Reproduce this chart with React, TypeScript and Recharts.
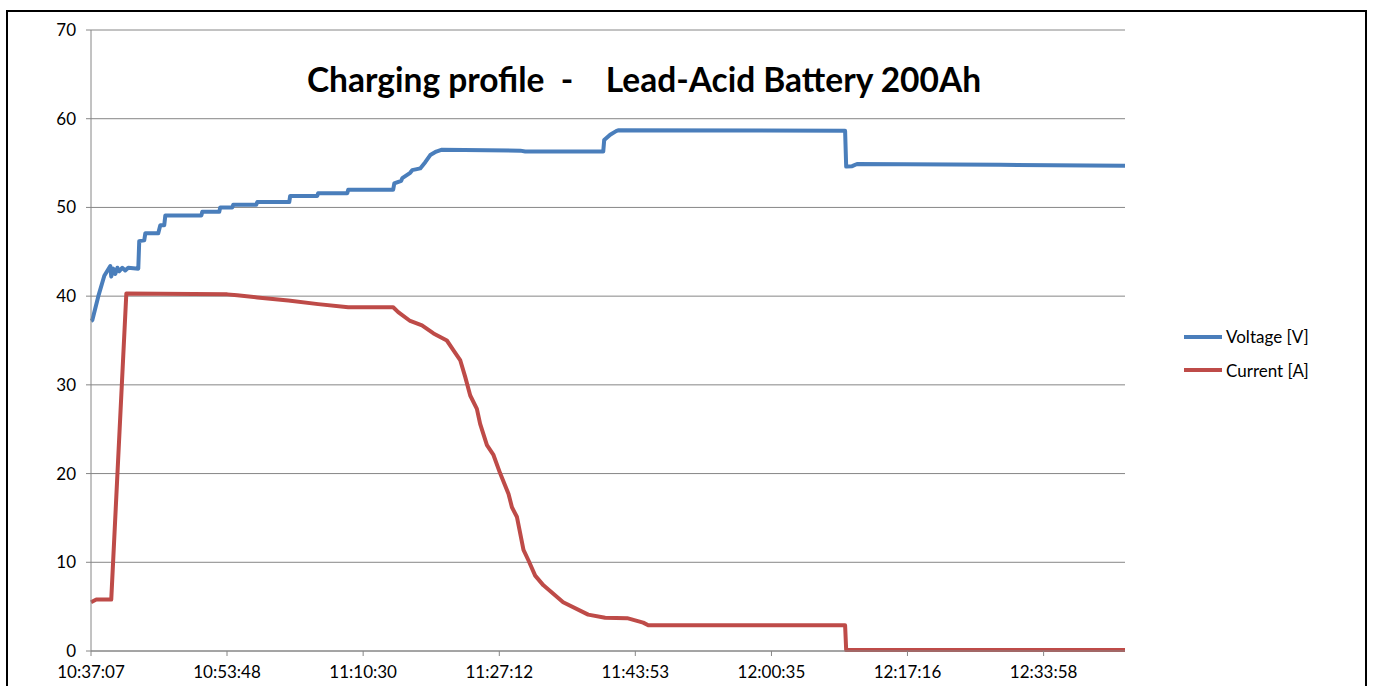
import React from 'react';
import { LineChart, Line, XAxis, YAxis, CartesianGrid, Legend } from 'recharts';

// elapsed seconds since 10:37:07
const voltageTime = [0, 10, 54, 98, 142, 149, 164, 179, 194, 208, 230, 252, 274, 348, 355, 392, 400, 495, 510, 539, 547, 812, 819, 944, 951, 1040, 1047, 1216, 1224, 1459, 1466, 1665, 1672, 1886, 1893, 2224, 2232, 2283, 2291, 2349, 2364, 2423, 2460, 2497, 2541, 2578, 3159, 3196, 3770, 3777, 3821, 3865, 3880, 5550, 5558, 5602, 5638, 6691, 7610];
const voltageValue = [37.2, 37.3, 40.0, 42.3, 43.4, 42.2, 43.1, 42.5, 43.2, 42.8, 43.2, 42.9, 43.2, 43.1, 46.2, 46.3, 47.1, 47.1, 48.0, 48.0, 49.1, 49.1, 49.5, 49.5, 50.0, 50.0, 50.3, 50.3, 50.6, 50.6, 51.3, 51.3, 51.6, 51.6, 52.0, 52.0, 52.7, 53.0, 53.3, 53.9, 54.2, 54.4, 55.1, 55.9, 56.3, 56.5, 56.4, 56.3, 56.3, 57.6, 58.2, 58.6, 58.7, 58.65, 54.6, 54.65, 54.9, 54.8, 54.7];

const currentTime = [0, 39, 149, 260, 1003, 1076, 1224, 1452, 1672, 1893, 2224, 2261, 2349, 2436, 2521, 2619, 2668, 2717, 2754, 2791, 2840, 2864, 2914, 2962, 3012, 3073, 3098, 3135, 3183, 3220, 3269, 3330, 3475, 3659, 3784, 3946, 4064, 4101, 5550, 5558, 7610];
const currentValue = [5.5, 5.8, 5.8, 40.3, 40.2, 40.1, 39.85, 39.5, 39.1, 38.75, 38.75, 38.2, 37.2, 36.7, 35.8, 35.0, 33.9, 32.8, 30.9, 28.8, 27.3, 25.6, 23.2, 22.1, 20.0, 17.7, 16.2, 15.1, 11.4, 10.2, 8.5, 7.4, 5.5, 4.1, 3.75, 3.7, 3.2, 2.9, 2.9, 0.1, 0.1];

const xTicks = [0, 1001, 2003, 3005, 4006, 5008, 6009, 7011];
const xTickLabels = ['10:37:07', '10:53:48', '11:10:30', '11:27:12', '11:43:53', '12:00:35', '12:17:16', '12:33:58'];
const yTicks = [0, 10, 20, 30, 40, 50, 60, 70];

const seriesNames = ['Voltage [V]', 'Current [A]'];
const seriesColors = ['#4A7EBB', '#BE4B48'];
const title = 'Charging profile  -    Lead-Acid Battery 200Ah';

const voltageData = voltageTime.map((t, i) => ({ t, v: voltageValue[i] }));
const currentData = currentTime.map((t, i) => ({ t, a: currentValue[i] }));

const FONT = 'Lato, "Open Sans", sans-serif';

const LegendContent = () => (
  <div style={{ fontFamily: FONT, fontSize: 17, color: '#000' }}>
    {seriesNames.map((n, i) => (
      <div key={n} style={{ display: 'flex', alignItems: 'center', height: 33.5 }}>
        <svg width={44} height={10} style={{ display: 'block' }}>
          <line x1={2} y1={5} x2={40} y2={5} stroke={seriesColors[i]} strokeWidth={4} />
        </svg>
        <span>{n}</span>
      </div>
    ))}
  </div>
);

export default function App() {
  return (
    <div style={{ position: 'absolute', left: 0, top: 0, width: 1373, height: 686, overflow: 'hidden', background: '#fff' }}>
      <div style={{ position: 'absolute', left: 6, top: 10, width: 1361, height: 720, border: '2px solid #000', boxSizing: 'border-box' }} />
      <div style={{ position: 'absolute', left: 0, top: 0 }}>
        <LineChart width={1373} height={686} margin={{ top: 30, right: 98, bottom: 5, left: 30 }}>
          <CartesianGrid horizontal vertical={false} stroke="#868686" strokeWidth={1} />
          <XAxis
            dataKey="t"
            type="number"
            domain={[0, 7610]}
            ticks={xTicks}
            tickFormatter={(v: number) => xTickLabels[xTicks.indexOf(v)] ?? ''}
            stroke="#868686"
            tickSize={5}
            tickMargin={10}
            height={30}
            tick={{ fill: '#000', fontSize: 17, fontFamily: FONT }}
            allowDuplicatedCategory={false}
          />
          <YAxis
            type="number"
            domain={[0, 70]}
            ticks={yTicks}
            stroke="#868686"
            tickSize={5}
            tickMargin={10}
            width={61}
            tick={{ fill: '#000', fontSize: 17, fontFamily: FONT }}
          />
          <Legend
            layout="vertical"
            align="right"
            verticalAlign="middle"
            content={<LegendContent />}
            wrapperStyle={{ left: 1182, top: 320, width: 150 }}
          />
          <Line data={voltageData} dataKey="v" name={seriesNames[0]} stroke={seriesColors[0]} strokeWidth={4} dot={false} isAnimationActive={false} strokeLinejoin="round" />
          <Line data={currentData} dataKey="a" name={seriesNames[1]} stroke={seriesColors[1]} strokeWidth={4} dot={false} isAnimationActive={false} strokeLinejoin="round" />
          <text x={644} y={92} textAnchor="middle" style={{ fontFamily: FONT, fontWeight: 700, fontSize: 33.5, whiteSpace: 'pre' }} fill="#000">{title}</text>
        </LineChart>
      </div>
    </div>
  );
}
